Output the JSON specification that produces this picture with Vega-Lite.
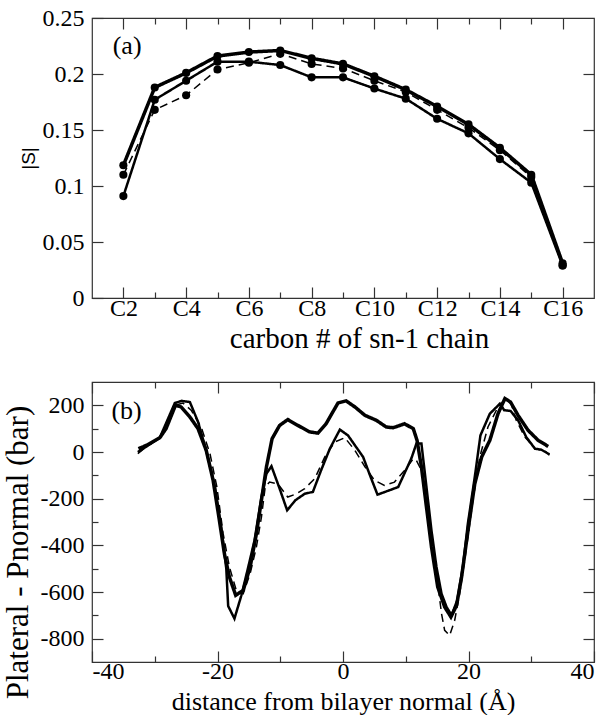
{
  "$schema": "https://vega.github.io/schema/vega-lite/v6.json",
  "padding": {"left": 1, "top": 5, "right": 0, "bottom": 0},
  "background": "white",
  "bounds": "flush",
  "spacing": 84,
  "config": {
    "font": "Liberation Serif",
    "view": {"stroke": "#333", "strokeWidth": 1.2},
    "axis": {
      "domain": false, "grid": false,
      "labelFont": "Liberation Serif", "labelFontSize": 24, "labelColor": "black",
      "titleFont": "Liberation Serif", "titleFontWeight": "normal", "titleColor": "black",
      "tickColor": "#333", "tickWidth": 1.2, "labelOverlap": false
    }
  },
  "vconcat": [
    {
      "width": 502, "height": 280,
      "data": {"values": [
        {"c": 2, "S": 0.1185, "s": "A"}, {"c": 3, "S": 0.188, "s": "A"}, {"c": 4, "S": 0.201, "s": "A"}, {"c": 5, "S": 0.216, "s": "A"}, {"c": 6, "S": 0.2196, "s": "A"}, {"c": 7, "S": 0.221, "s": "A"}, {"c": 8, "S": 0.214, "s": "A"}, {"c": 9, "S": 0.209, "s": "A"}, {"c": 10, "S": 0.198, "s": "A"}, {"c": 11, "S": 0.186, "s": "A"}, {"c": 12, "S": 0.171, "s": "A"}, {"c": 13, "S": 0.155, "s": "A"}, {"c": 14, "S": 0.134, "s": "A"}, {"c": 15, "S": 0.110, "s": "A"}, {"c": 16, "S": 0.031, "s": "A"},
        {"c": 2, "S": 0.091, "s": "B"}, {"c": 3, "S": 0.177, "s": "B"}, {"c": 4, "S": 0.194, "s": "B"}, {"c": 5, "S": 0.211, "s": "B"}, {"c": 6, "S": 0.211, "s": "B"}, {"c": 7, "S": 0.208, "s": "B"}, {"c": 8, "S": 0.197, "s": "B"}, {"c": 9, "S": 0.197, "s": "B"}, {"c": 10, "S": 0.187, "s": "B"}, {"c": 11, "S": 0.178, "s": "B"}, {"c": 12, "S": 0.160, "s": "B"}, {"c": 13, "S": 0.147, "s": "B"}, {"c": 14, "S": 0.124, "s": "B"}, {"c": 15, "S": 0.103, "s": "B"}, {"c": 16, "S": 0.029, "s": "B"},
        {"c": 2, "S": 0.110, "s": "C"}, {"c": 3, "S": 0.168, "s": "C"}, {"c": 4, "S": 0.181, "s": "C"}, {"c": 5, "S": 0.204, "s": "C"}, {"c": 6, "S": 0.210, "s": "C"}, {"c": 7, "S": 0.218, "s": "C"}, {"c": 8, "S": 0.209, "s": "C"}, {"c": 9, "S": 0.205, "s": "C"}, {"c": 10, "S": 0.194, "s": "C"}, {"c": 11, "S": 0.184, "s": "C"}, {"c": 12, "S": 0.168, "s": "C"}, {"c": 13, "S": 0.152, "s": "C"}, {"c": 14, "S": 0.132, "s": "C"}, {"c": 15, "S": 0.108, "s": "C"}, {"c": 16, "S": 0.029, "s": "C"}
      ]},
      "resolve": {"axis": {"x": "independent", "y": "independent"}},
      "layer": [
        {
          "mark": {"type": "line", "color": "black"},
          "encoding": {
            "x": {"field": "c", "type": "quantitative", "scale": {"domain": [1, 17], "nice": false, "zero": false},
              "axis": {"orient": "bottom", "values": [2, 4, 6, 8, 10, 12, 14, 16], "tickSize": -11, "labelPadding": 9, "labelExpr": "'C' + datum.value",
                "labelFont": "Liberation Serif", "labelFontSize": 24,
                "title": "carbon # of sn-1 chain", "titleFont": "Liberation Serif", "titleFontSize": 29, "titleX": 267, "titleY": 26, "titleBaseline": "top"}},
            "y": {"field": "S", "type": "quantitative", "scale": {"domain": [0, 0.25], "nice": false},
              "axis": {"orient": "left", "values": [0, 0.05, 0.1, 0.15, 0.2, 0.25], "format": "~g", "tickSize": -11, "labelPadding": 19,
                "labelFont": "Liberation Serif", "labelFontSize": 24,
                "title": "|S|", "titleFont": "Liberation Sans", "titleFontSize": 19, "titleX": -54}},
            "strokeWidth": {"field": "s", "type": "nominal", "scale": {"domain": ["A", "B", "C"], "range": [3.5, 1.5, 1.5]}, "legend": null},
            "strokeDash": {"field": "s", "type": "nominal", "scale": {"domain": ["A", "B", "C"], "range": [[1, 0], [1, 0], [8, 5]]}, "legend": null}
          }
        },
        {
          "mark": {"type": "point", "filled": true, "size": 66, "color": "black", "opacity": 1},
          "encoding": {
            "x": {"field": "c", "type": "quantitative", "axis": {"orient": "bottom", "values": [3, 5, 7, 9, 11, 13, 15], "tickSize": -6, "labels": false, "title": null}},
            "y": {"field": "S", "type": "quantitative", "axis": {"orient": "right", "values": [0.05, 0.1, 0.15, 0.2], "tickSize": -11, "labels": false, "title": null}}
          }
        },
        {
          "data": {"values": [{"c": 1.66, "S": 0.225, "t": "(a)"}]},
          "mark": {"type": "text", "align": "left", "baseline": "middle", "font": "Liberation Serif", "fontSize": 26, "color": "black"},
          "encoding": {
            "x": {"field": "c", "type": "quantitative", "axis": {"orient": "top", "values": [2, 4, 6, 8, 10, 12, 14, 16], "tickSize": -11, "labels": false, "title": null}},
            "y": {"field": "S", "type": "quantitative", "axis": null},
            "text": {"field": "t"}
          }
        },
        {
          "data": {"values": [{"c": 1.66, "S": 0.225, "t": ""}]},
          "mark": {"type": "text", "color": "black"},
          "encoding": {
            "x": {"field": "c", "type": "quantitative", "axis": {"orient": "top", "values": [3, 5, 7, 9, 11, 13, 15], "tickSize": -6, "labels": false, "title": null}},
            "y": {"field": "S", "type": "quantitative", "axis": null},
            "text": {"field": "t"}
          }
        }
      ]
    },
    {
      "width": 502, "height": 280,
      "data": {"values": [
        {"x": -32.6, "p": 14, "s": "A"}, {"x": -31.3, "p": 29, "s": "A"}, {"x": -29.2, "p": 61, "s": "A"}, {"x": -28.2, "p": 100, "s": "A"}, {"x": -26.7, "p": 200, "s": "A"}, {"x": -25.8, "p": 193, "s": "A"}, {"x": -24.4, "p": 150, "s": "A"}, {"x": -23.1, "p": 100, "s": "A"}, {"x": -21.8, "p": 7, "s": "A"}, {"x": -20.7, "p": -121, "s": "A"}, {"x": -19.7, "p": -293, "s": "A"}, {"x": -18.9, "p": -436, "s": "A"}, {"x": -18.1, "p": -536, "s": "A"}, {"x": -17.1, "p": -614, "s": "A"}, {"x": -15.9, "p": -593, "s": "A"}, {"x": -14.8, "p": -493, "s": "A"}, {"x": -13.8, "p": -350, "s": "A"}, {"x": -13.0, "p": -207, "s": "A"}, {"x": -12.2, "p": -64, "s": "A"}, {"x": -11.3, "p": 57, "s": "A"}, {"x": -10.1, "p": 114, "s": "A"}, {"x": -8.8, "p": 139, "s": "A"}, {"x": -7.2, "p": 114, "s": "A"}, {"x": -5.3, "p": 86, "s": "A"}, {"x": -4.0, "p": 81, "s": "A"}, {"x": -2.7, "p": 121, "s": "A"}, {"x": -0.8, "p": 210, "s": "A"}, {"x": 0.5, "p": 219, "s": "A"}, {"x": 1.9, "p": 193, "s": "A"}, {"x": 3.5, "p": 157, "s": "A"}, {"x": 5.3, "p": 136, "s": "A"}, {"x": 6.9, "p": 107, "s": "A"}, {"x": 8.0, "p": 104, "s": "A"}, {"x": 9.8, "p": 121, "s": "A"}, {"x": 11.2, "p": 100, "s": "A"}, {"x": 11.8, "p": 50, "s": "A"}, {"x": 12.5, "p": -64, "s": "A"}, {"x": 13.3, "p": -236, "s": "A"}, {"x": 14.1, "p": -407, "s": "A"}, {"x": 15.1, "p": -579, "s": "A"}, {"x": 16.2, "p": -664, "s": "A"}, {"x": 17.2, "p": -707, "s": "A"}, {"x": 18.1, "p": -657, "s": "A"}, {"x": 18.9, "p": -536, "s": "A"}, {"x": 20.0, "p": -321, "s": "A"}, {"x": 21.0, "p": -136, "s": "A"}, {"x": 22.1, "p": -21, "s": "A"}, {"x": 23.4, "p": 50, "s": "A"}, {"x": 24.7, "p": 164, "s": "A"}, {"x": 25.8, "p": 229, "s": "A"}, {"x": 26.7, "p": 214, "s": "A"}, {"x": 27.9, "p": 157, "s": "A"}, {"x": 29.5, "p": 93, "s": "A"}, {"x": 31.1, "p": 50, "s": "A"}, {"x": 32.7, "p": 24, "s": "A"},
        {"x": -32.7, "p": 0, "s": "B"}, {"x": -31.3, "p": 24, "s": "B"}, {"x": -29.2, "p": 61, "s": "B"}, {"x": -26.8, "p": 210, "s": "B"}, {"x": -25.7, "p": 219, "s": "B"}, {"x": -24.4, "p": 214, "s": "B"}, {"x": -23.1, "p": 129, "s": "B"}, {"x": -21.8, "p": 7, "s": "B"}, {"x": -20.4, "p": -150, "s": "B"}, {"x": -19.4, "p": -321, "s": "B"}, {"x": -18.6, "p": -500, "s": "B"}, {"x": -18.3, "p": -660, "s": "B"}, {"x": -17.3, "p": -714, "s": "B"}, {"x": -16.2, "p": -615, "s": "B"}, {"x": -15.1, "p": -493, "s": "B"}, {"x": -14.1, "p": -379, "s": "B"}, {"x": -13.0, "p": -193, "s": "B"}, {"x": -12.2, "p": -93, "s": "B"}, {"x": -11.4, "p": -61, "s": "B"}, {"x": -10.1, "p": -157, "s": "B"}, {"x": -8.9, "p": -250, "s": "B"}, {"x": -7.6, "p": -207, "s": "B"}, {"x": -6.1, "p": -179, "s": "B"}, {"x": -4.8, "p": -171, "s": "B"}, {"x": -3.5, "p": -79, "s": "B"}, {"x": -2.1, "p": 14, "s": "B"}, {"x": -0.5, "p": 96, "s": "B"}, {"x": 0.8, "p": 71, "s": "B"}, {"x": 2.1, "p": 21, "s": "B"}, {"x": 3.2, "p": -21, "s": "B"}, {"x": 4.3, "p": -100, "s": "B"}, {"x": 5.5, "p": -183, "s": "B"}, {"x": 6.9, "p": -169, "s": "B"}, {"x": 8.8, "p": -150, "s": "B"}, {"x": 10.9, "p": -27, "s": "B"}, {"x": 11.7, "p": 36, "s": "B"}, {"x": 12.5, "p": 36, "s": "B"}, {"x": 13.3, "p": -150, "s": "B"}, {"x": 14.1, "p": -336, "s": "B"}, {"x": 14.9, "p": -493, "s": "B"}, {"x": 15.7, "p": -607, "s": "B"}, {"x": 16.5, "p": -664, "s": "B"}, {"x": 17.3, "p": -700, "s": "B"}, {"x": 18.2, "p": -636, "s": "B"}, {"x": 19.1, "p": -493, "s": "B"}, {"x": 19.9, "p": -307, "s": "B"}, {"x": 21.0, "p": -107, "s": "B"}, {"x": 21.9, "p": 71, "s": "B"}, {"x": 23.4, "p": 164, "s": "B"}, {"x": 25.0, "p": 207, "s": "B"}, {"x": 25.7, "p": 179, "s": "B"}, {"x": 26.7, "p": 176, "s": "B"}, {"x": 27.9, "p": 136, "s": "B"}, {"x": 29.2, "p": 64, "s": "B"}, {"x": 30.6, "p": 14, "s": "B"}, {"x": 31.6, "p": 10, "s": "B"}, {"x": 32.9, "p": -10, "s": "B"},
        {"x": -32.7, "p": -7, "s": "C"}, {"x": -31.3, "p": 24, "s": "C"}, {"x": -29.2, "p": 61, "s": "C"}, {"x": -26.8, "p": 200, "s": "C"}, {"x": -25.5, "p": 210, "s": "C"}, {"x": -24.2, "p": 179, "s": "C"}, {"x": -22.6, "p": 107, "s": "C"}, {"x": -21.2, "p": -7, "s": "C"}, {"x": -20.1, "p": -150, "s": "C"}, {"x": -19.1, "p": -350, "s": "C"}, {"x": -18.1, "p": -493, "s": "C"}, {"x": -17.0, "p": -593, "s": "C"}, {"x": -15.9, "p": -607, "s": "C"}, {"x": -14.8, "p": -521, "s": "C"}, {"x": -13.8, "p": -407, "s": "C"}, {"x": -13.0, "p": -279, "s": "C"}, {"x": -12.4, "p": -150, "s": "C"}, {"x": -11.7, "p": -129, "s": "C"}, {"x": -10.4, "p": -136, "s": "C"}, {"x": -8.8, "p": -193, "s": "C"}, {"x": -7.4, "p": -179, "s": "C"}, {"x": -6.1, "p": -157, "s": "C"}, {"x": -4.5, "p": -114, "s": "C"}, {"x": -2.9, "p": -21, "s": "C"}, {"x": -1.3, "p": 43, "s": "C"}, {"x": 0.3, "p": 61, "s": "C"}, {"x": 1.9, "p": 7, "s": "C"}, {"x": 3.5, "p": -64, "s": "C"}, {"x": 5.0, "p": -121, "s": "C"}, {"x": 6.6, "p": -143, "s": "C"}, {"x": 8.2, "p": -129, "s": "C"}, {"x": 9.8, "p": -79, "s": "C"}, {"x": 11.2, "p": -29, "s": "C"}, {"x": 11.7, "p": -36, "s": "C"}, {"x": 12.5, "p": -79, "s": "C"}, {"x": 13.3, "p": -207, "s": "C"}, {"x": 14.1, "p": -364, "s": "C"}, {"x": 14.9, "p": -521, "s": "C"}, {"x": 15.7, "p": -693, "s": "C"}, {"x": 16.2, "p": -764, "s": "C"}, {"x": 17.0, "p": -786, "s": "C"}, {"x": 17.8, "p": -721, "s": "C"}, {"x": 18.6, "p": -607, "s": "C"}, {"x": 19.7, "p": -407, "s": "C"}, {"x": 20.7, "p": -207, "s": "C"}, {"x": 21.8, "p": -21, "s": "C"}, {"x": 23.1, "p": 107, "s": "C"}, {"x": 24.7, "p": 193, "s": "C"}, {"x": 25.8, "p": 224, "s": "C"}, {"x": 26.8, "p": 207, "s": "C"}, {"x": 27.6, "p": 136, "s": "C"}, {"x": 29.0, "p": 64, "s": "C"}, {"x": 30.6, "p": 14, "s": "C"}, {"x": 32.1, "p": 7, "s": "C"}, {"x": 32.9, "p": -14, "s": "C"}
      ]},
      "resolve": {"axis": {"x": "independent", "y": "independent"}},
      "layer": [
        {
          "mark": {"type": "line", "color": "black"},
          "encoding": {
            "x": {"field": "x", "type": "quantitative", "scale": {"domain": [-40, 40], "nice": false, "zero": false},
              "axis": {"orient": "bottom", "values": [-40, -20, 0, 20, 40], "tickSize": -11, "labelPadding": 8, "labelExpr": "toString(datum.value)",
                "labelFont": "Liberation Serif", "labelFontSize": 24,
                "title": "distance from bilayer normal (Å)", "titleFont": "Liberation Serif", "titleFontSize": 26, "titleY": 26, "titleBaseline": "top"}},
            "y": {"field": "p", "type": "quantitative", "scale": {"domain": [-900, 300], "nice": false, "zero": false},
              "axis": {"orient": "left", "values": [-800, -600, -400, -200, 0, 200], "labelExpr": "toString(datum.value)", "tickSize": -11, "labelPadding": 19,
                "labelFont": "Liberation Serif", "labelFontSize": 24,
                "title": "Plateral - Pnormal (bar)", "titleFont": "Liberation Serif", "titleFontSize": 31, "titleX": -58, "titleY": 170}},
            "strokeWidth": {"field": "s", "type": "nominal", "scale": {"domain": ["A", "B", "C"], "range": [3.5, 1.4, 1.5]}, "legend": null},
            "strokeDash": {"field": "s", "type": "nominal", "scale": {"domain": ["A", "B", "C"], "range": [[1, 0], [1, 0], [8, 5]]}, "legend": null}
          }
        },
        {
          "mark": {"type": "point", "opacity": 0},
          "encoding": {
            "x": {"field": "x", "type": "quantitative", "axis": {"orient": "bottom", "values": [-30, -10, 10, 30], "tickSize": -6, "labels": false, "title": null}},
            "y": {"field": "p", "type": "quantitative", "axis": {"orient": "left", "values": [-700, -500, -300, -100, 100], "tickSize": -6, "labels": false, "title": null}}
          }
        },
        {
          "data": {"values": [{"x": -36.9, "p": 174, "t": "(b)"}]},
          "mark": {"type": "text", "align": "left", "baseline": "middle", "font": "Liberation Serif", "fontSize": 26, "color": "black"},
          "encoding": {
            "x": {"field": "x", "type": "quantitative", "axis": {"orient": "top", "values": [-40, -20, 0, 20, 40], "tickSize": -11, "labels": false, "title": null}},
            "y": {"field": "p", "type": "quantitative", "axis": {"orient": "right", "values": [-800, -600, -400, -200, 0, 200], "tickSize": -11, "labels": false, "title": null}},
            "text": {"field": "t"}
          }
        },
        {
          "data": {"values": [{"x": -36.9, "p": 174, "t": ""}]},
          "mark": {"type": "text", "color": "black"},
          "encoding": {
            "x": {"field": "x", "type": "quantitative", "axis": {"orient": "top", "values": [-30, -10, 10, 30], "tickSize": -6, "labels": false, "title": null}},
            "y": {"field": "p", "type": "quantitative", "axis": {"orient": "right", "values": [-700, -500, -300, -100, 100], "tickSize": -6, "labels": false, "title": null}},
            "text": {"field": "t"}
          }
        }
      ]
    }
  ]
}
